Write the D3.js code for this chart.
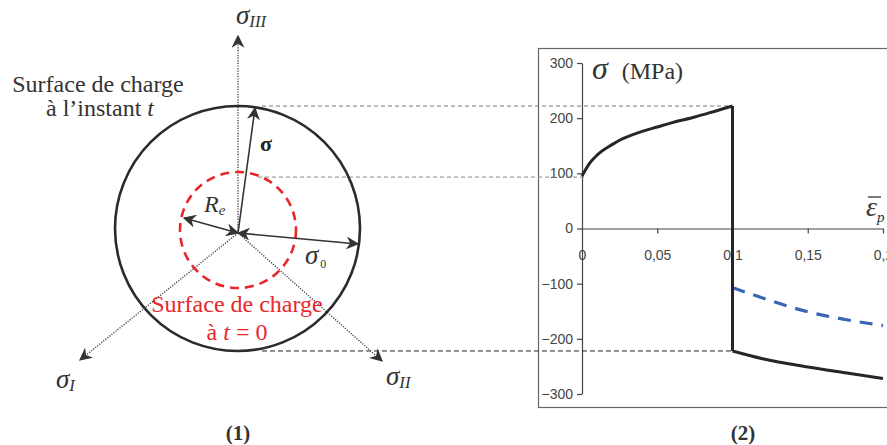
<!DOCTYPE html>
<html><head><meta charset="utf-8">
<script src="https://cdn.jsdelivr.net/npm/d3@7"></script>
<style>
html,body{margin:0;padding:0;background:#fff;}
svg{display:block;}
</style></head>
<body>
<svg id="c" width="887" height="445"></svg>
<script>
// ---------- data ----------
const yTicks = [300, 200, 100, 0, -100, -200, -300];
const xTicks = [0, 0.05, 0.1, 0.15, 0.2];
const xTickLabels = ["0", "0,05", "0,1", "0,15", "0,2"];
const loadStrain = [0, 0.005, 0.01, 0.02, 0.025, 0.03, 0.04, 0.05, 0.06, 0.075, 0.09, 0.1];
const loadStress = [95, 118, 133, 152, 160, 166, 176, 184, 192, 202, 214, 222];
const unloadStrain = [0.1, 0.1];
const unloadStress = [222, -222];
const reloadStrain = [0.1, 0.12, 0.15, 0.176, 0.2];
const reloadStress = [-222, -236, -251, -262, -272];
const dashStrain = [0.1, 0.12, 0.15, 0.175, 0.2];
const dashStress = [-107, -126, -151, -165, -176];
const yieldInit = 95;   // sigma_0 level
const yieldNow = 222;   // sigma at time t

const SERIF = "'Liberation Serif','DejaVu Serif',serif";
const SANS = "'Liberation Sans',Arial,sans-serif";
const svg = d3.select("#c");
function T(sel) { return sel.attr("font-family", SERIF).style("font-family", SERIF); }

// ---------- right chart ----------
const x = d3.scaleLinear().domain([0, 0.2]).range([582, 883]);
const y = d3.scaleLinear().domain([-300, 300]).range([394, 63]);

svg.append("rect").attr("x", 538.5).attr("y", 48.5).attr("width", 420).attr("height", 359)
  .attr("fill", "none").attr("stroke", "#666").attr("stroke-width", 1.2);

const yAxis = svg.append("g").attr("transform", `translate(${x(0)},0)`)
  .call(d3.axisLeft(y).tickValues(yTicks).tickSize(5).tickSizeOuter(0).tickPadding(4));
const xAxis = svg.append("g").attr("transform", `translate(0,${y(0)})`)
  .call(d3.axisBottom(x).tickValues(xTicks).tickFormat((d, i) => xTickLabels[i]).tickSize(5).tickSizeOuter(0).tickPadding(17));
[yAxis, xAxis].forEach(a => {
  a.select(".domain").attr("stroke", "#444").attr("stroke-width", 1.2);
  a.selectAll(".tick line").attr("stroke", "#444").attr("stroke-width", 1.2);
  a.selectAll("text").attr("fill", "#444").attr("font-family", SANS).style("font-family", SANS).style("font-size", "14px");
});
xAxis.selectAll(".tick").filter(d => d === 0).select("line").remove();

const line = d3.line().x(d => x(d[0])).y(d => y(d[1])).curve(d3.curveMonotoneX);
const seg = (xs, ys) => xs.map((v, i) => [v, ys[i]]);

// dashed projection lines (from diagram)
const cx = 238, cy = 233;
const R = 122.5, Rin = 58;
svg.append("line").attr("x1", 262).attr("x2", x(0.1)).attr("y1", y(yieldNow)).attr("y2", y(yieldNow))
  .attr("stroke", "#777").attr("stroke-dasharray", "4,3").attr("stroke-width", 1);
svg.append("line").attr("x1", 258).attr("x2", x(0.003)).attr("y1", y(yieldInit) + 1).attr("y2", y(yieldInit) + 1)
  .attr("stroke", "#888").attr("stroke-dasharray", "4,3").attr("stroke-width", 1);
svg.append("line").attr("x1", 262).attr("x2", x(0.1)).attr("y1", y(-yieldNow)).attr("y2", y(-yieldNow))
  .attr("stroke", "#222").attr("stroke-dasharray", "5,3").attr("stroke-width", 1);

svg.append("path").attr("d", line(seg(dashStrain, dashStress))).attr("fill", "none")
  .attr("stroke", "#3B64B5").attr("stroke-width", 3.2).attr("stroke-dasharray", "13,9");
svg.append("path").attr("d", line(seg(loadStrain, loadStress))).attr("fill", "none")
  .attr("stroke", "#262626").attr("stroke-width", 3);
svg.append("path").attr("d", d3.line().x(d => x(d[0])).y(d => y(d[1]))(seg(unloadStrain, unloadStress))).attr("fill", "none")
  .attr("stroke", "#262626").attr("stroke-width", 3);
svg.append("path").attr("d", line(seg(reloadStrain, reloadStress))).attr("fill", "none")
  .attr("stroke", "#262626").attr("stroke-width", 3);

// axis titles
const yt = T(svg.append("text")).attr("x", 592).attr("y", 79).attr("fill", "#333").style("font-size", "24px");
yt.append("tspan").text("σ").style("font-style", "italic").style("font-size", "32px");
yt.append("tspan").text(" (MPa)").attr("dx", 8);
const xt = T(svg.append("text")).attr("x", 866).attr("y", 216).attr("fill", "#333").style("font-size", "28px");
xt.append("tspan").text("ε").style("font-style", "italic");
xt.append("tspan").text("p").style("font-style", "italic").style("font-size", "15px").attr("dy", 6);
svg.append("line").attr("x1", 868).attr("x2", 881).attr("y1", 197).attr("y2", 197).attr("stroke", "#333").attr("stroke-width", 1.3);

T(svg.append("text")).attr("x", 743).attr("y", 440).attr("text-anchor", "middle").attr("fill", "#333")
  .style("font-weight", "bold").style("font-size", "21px").text("(2)");

// ---------- left diagram ----------
const defs = svg.append("defs");
defs.append("marker").attr("id", "ah").attr("viewBox", "0 0 10 10").attr("refX", 9).attr("refY", 5)
  .attr("markerWidth", 13).attr("markerHeight", 13).attr("markerUnits", "userSpaceOnUse").attr("orient", "auto-start-reverse")
  .append("path").attr("d", "M0,0 L10,5 L0,10 L3,5 Z").attr("fill", "#333");

const axes = [[238, 36], [80, 360], [382, 361]];
axes.forEach(p => {
  svg.append("line").attr("x1", cx).attr("y1", cy).attr("x2", p[0]).attr("y2", p[1])
    .attr("stroke", "#444").attr("stroke-width", 1.4).attr("stroke-dasharray", "1.2,1.4")
    .attr("marker-end", "url(#ah)");
});

svg.append("circle").attr("cx", 237.5).attr("cy", 228.5).attr("r", R).attr("fill", "none")
  .attr("stroke", "#2b2b2b").attr("stroke-width", 2.6);
svg.append("circle").attr("cx", 238).attr("cy", 230).attr("r", Rin).attr("fill", "none")
  .attr("stroke", "#e8262b").attr("stroke-width", 2.6).attr("stroke-dasharray", "9,6");

svg.append("line").attr("x1", cx).attr("y1", cy).attr("x2", 255).attr("y2", 108)
  .attr("stroke", "#333").attr("stroke-width", 1.6).attr("marker-end", "url(#ah)");
svg.append("line").attr("x1", cx).attr("y1", cy).attr("x2", 184).attr("y2", 218)
  .attr("stroke", "#333").attr("stroke-width", 1.6).attr("marker-end", "url(#ah)").attr("marker-start", "url(#ah)");
svg.append("line").attr("x1", cx).attr("y1", cy).attr("x2", 358).attr("y2", 244)
  .attr("stroke", "#333").attr("stroke-width", 1.6).attr("marker-end", "url(#ah)").attr("marker-start", "url(#ah)");

function sig(xp, yp, sub, size) {
  const t = T(svg.append("text")).attr("x", xp).attr("y", yp).attr("fill", "#333").style("font-style", "italic").style("font-size", size + "px");
  t.append("tspan").text("σ");
  t.append("tspan").text(sub).style("font-size", (size * 0.62) + "px").attr("dy", 3);
  return t;
}
sig(236, 24, "III", 27);
sig(56, 388, "I", 27);
sig(386, 385, "II", 27);
T(svg.append("text")).attr("x", 260).attr("y", 151).attr("fill", "#222").style("font-weight", "bold").style("font-size", "22px").text("σ");
const re = T(svg.append("text")).attr("x", 204).attr("y", 212).attr("fill", "#333").style("font-style", "italic").style("font-size", "24px");
re.append("tspan").text("R");
re.append("tspan").text("e").style("font-size", "15px").attr("dy", 3);
const s0 = T(svg.append("text")).attr("x", 305).attr("y", 264).attr("fill", "#333").style("font-style", "italic").style("font-size", "27px");
s0.append("tspan").text("σ");
s0.append("tspan").text("0").style("font-style", "normal").style("font-size", "12px").attr("dy", 4).attr("dx", 2);

T(svg.append("text")).attr("x", 98).attr("y", 92).attr("text-anchor", "middle").attr("fill", "#333").style("font-size", "24px").text("Surface de charge");
const l2 = T(svg.append("text")).attr("x", 100).attr("y", 116).attr("text-anchor", "middle").attr("fill", "#333").style("font-size", "24px");
l2.append("tspan").text("à l’instant ");
l2.append("tspan").text("t").style("font-style", "italic");

T(svg.append("text")).attr("x", 237).attr("y", 312).attr("text-anchor", "middle").attr("fill", "#e8262b").style("font-size", "24px").text("Surface de charge");
const r2 = T(svg.append("text")).attr("x", 237).attr("y", 340).attr("text-anchor", "middle").attr("fill", "#e8262b").style("font-size", "24px");
r2.append("tspan").text("à ");
r2.append("tspan").text("t").style("font-style", "italic");
r2.append("tspan").text(" = 0");

T(svg.append("text")).attr("x", 238).attr("y", 440).attr("text-anchor", "middle").attr("fill", "#333")
  .style("font-weight", "bold").style("font-size", "21px").text("(1)");
</script>
</body></html>
